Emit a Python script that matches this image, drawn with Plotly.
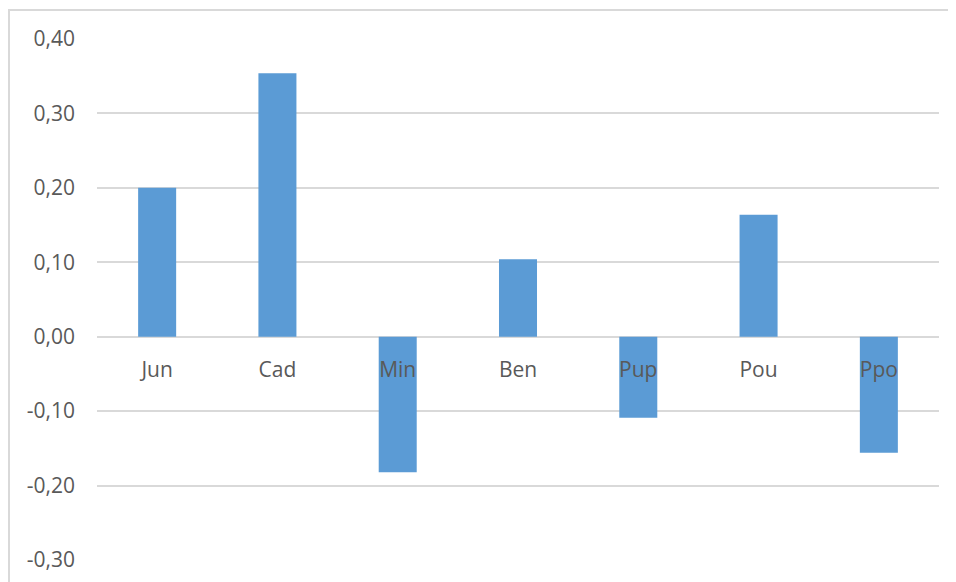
import plotly.graph_objects as go

categories = ["Jun", "Cad", "Min", "Ben", "Pup", "Pou", "Ppo"]
values = [0.200, 0.354, -0.182, 0.104, -0.109, 0.164, -0.156]
y_tickvals = [-0.30, -0.20, -0.10, 0.00, 0.10, 0.20, 0.30, 0.40]
y_ticktext = ["-0,30", "-0,20", "-0,10", "0,00", "0,10", "0,20", "0,30", "0,40"]

# page is offset by the 8px body margin
OFF = 8
W, H = 956 - OFF, 582 - OFF
L, T = 97 - OFF, 39 - OFF
R, B = 17, 22
pw, ph = W - L - R, H - T - B

fig = go.Figure(go.Bar(x=categories, y=values, marker=dict(color="#5B9BD5", line=dict(width=0))))

ymin, ymax = -0.30, 0.40
zero_pos = (0 - ymin) / (ymax - ymin)

fig.update_layout(
    width=W, height=H,
    margin=dict(l=L, r=R, t=T, b=B, autoexpand=False),
    paper_bgcolor="white", plot_bgcolor="white",
    bargap=0.684,
    showlegend=False,
    font=dict(family="Open Sans, Liberation Sans, sans-serif", size=21, color="#595959"),
    xaxis=dict(
        anchor="free", position=zero_pos,
        showgrid=False, showline=False, zeroline=False,
        ticks="", ticklabelstandoff=18,
        tickfont=dict(size=21, color="#595959"),
    ),
    yaxis=dict(
        range=[ymin, ymax],
        tickvals=y_tickvals, ticktext=y_ticktext,
        showgrid=True, gridcolor="#D9D9D9", gridwidth=2,
        zeroline=False, showline=False, ticks="",
        ticklabelstandoff=21,
        tickfont=dict(size=21, color="#595959"),
    ),
    shapes=[dict(
        type="rect", xref="paper", yref="paper",
        x0=(1 - L) / pw, x1=1 + 40 / pw,
        y0=-0.2, y1=1 + (T - 2) / ph,
        line=dict(color="#D9D9D9", width=2), fillcolor="rgba(0,0,0,0)", layer="below",
    )],
)

fig.write_html("out.html")
